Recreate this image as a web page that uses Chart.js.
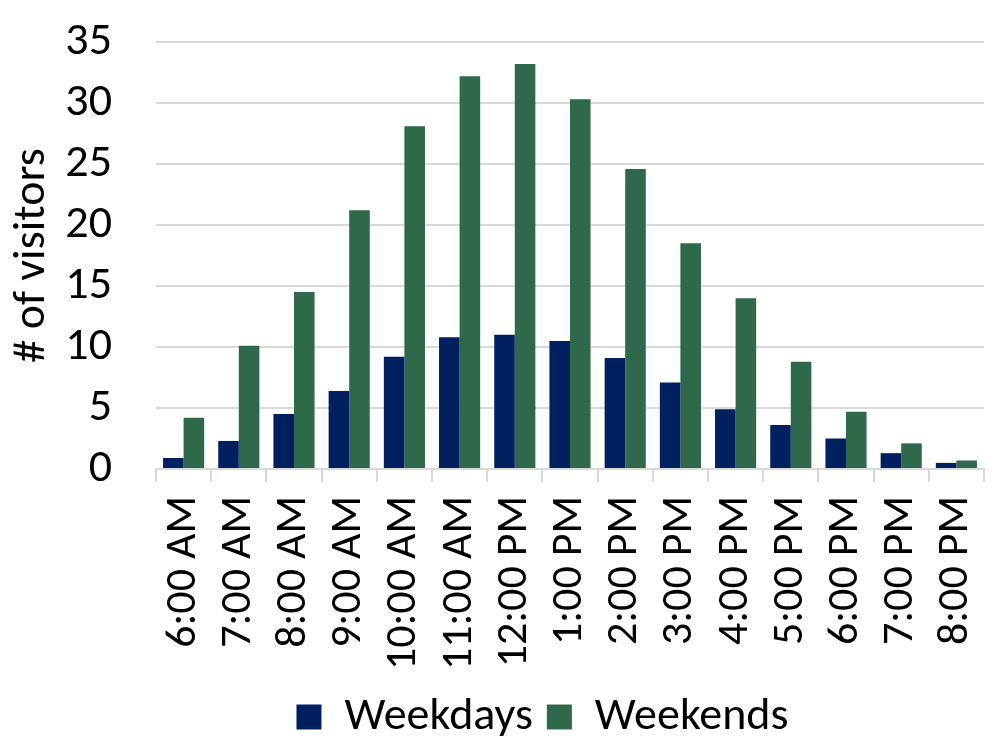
<!DOCTYPE html>
<html>
<head>
<meta charset="utf-8">
<title># of visitors by hour</title>
<script src="https://cdn.jsdelivr.net/npm/chart.js@4"></script>
<style>
  html, body { margin: 0; padding: 0; background: #fff; }
  #chart { display: block; }
</style>
</head>
<body>
<canvas id="chart" width="1000" height="750"></canvas>
<script>
// Dữ liệu
const hours = [
  "6:00 AM", "7:00 AM", "8:00 AM", "9:00 AM", "10:00 AM", "11:00 AM",
  "12:00 PM", "1:00 PM", "2:00 PM", "3:00 PM", "4:00 PM", "5:00 PM",
  "6:00 PM", "7:00 PM", "8:00 PM",
];
const weekdays = [0.9, 2.3, 4.5, 6.4, 9.2, 10.8, 11.0, 10.5, 9.1, 7.1, 4.9, 3.6, 2.5, 1.3, 0.5];
const weekends = [4.2, 10.1, 14.5, 21.2, 28.1, 32.2, 33.2, 30.3, 24.6, 18.5, 14.0, 8.8, 4.7, 2.1, 0.7];
const yMax = 35;
const yStep = 5;

const FONT = "Carlito, Calibri, Lato, sans-serif";
const FONT_SIZE = 46;
const gridColor = "#d9d9d9";

// Dời chú thích sang phải một chút cho giống hình gốc
const legendShift = {
  id: "legendShift",
  afterLayout(chart) {
    if (chart.legend) {
      chart.legend.left += 48;
      chart.legend.right += 48;
    }
  },
};

const ctx = document.getElementById("chart").getContext("2d");

const chart = new Chart(ctx, {
  type: "bar",
  data: {
    labels: hours,
    datasets: [
      {
        label: "Weekdays",
        data: weekdays,
        backgroundColor: "#002060",
        borderWidth: 0,
      },
      {
        label: "Weekends",
        data: weekends,
        backgroundColor: "#2f694b",
        borderWidth: 0,
      },
    ],
  },
  plugins: [legendShift],
  options: {
    responsive: false,
    devicePixelRatio: 1,
    animation: false,
    layout: {
      padding: { left: 5, right: 16, top: 42, bottom: 0 },
    },
    datasets: {
      bar: { categoryPercentage: 0.745, barPercentage: 1.0 },
    },
    scales: {
      x: {
        afterFit: (axis) => {
          axis.height = 211;
          axis.paddingLeft = 0;
          axis.paddingRight = 0;
        },
        grid: {
          display: true,
          offset: true,
          drawOnChartArea: false,
          drawTicks: true,
          tickLength: 13,
          color: gridColor,
          lineWidth: 2,
        },
        border: { display: true, color: gridColor, width: 2 },
        ticks: {
          color: "#000",
          font: { family: FONT, size: 44 },
          minRotation: 90,
          maxRotation: 90,
          padding: 14,
          autoSkip: false,
        },
      },
      y: {
        min: 0,
        max: yMax,
        afterFit: (axis) => {
          axis.width = 151;
          axis.paddingTop = 0;
          axis.paddingBottom = 0;
        },
        grid: {
          color: gridColor,
          lineWidth: 2,
          drawTicks: false,
        },
        border: { display: false },
        ticks: {
          stepSize: yStep,
          autoSkip: false,
          color: "#000",
          font: { family: FONT, size: FONT_SIZE },
          padding: 44,
        },
        title: {
          display: true,
          text: "# of visitors",
          color: "#000",
          font: { family: FONT, size: FONT_SIZE },
          padding: { top: 0, bottom: 0 },
        },
      },
    },
    plugins: {
      legend: {
        position: "bottom",
        labels: {
          color: "#000",
          font: { family: FONT, size: FONT_SIZE },
          boxWidth: 25,
          boxHeight: 25,
          padding: 14,
        },
      },
      tooltip: { enabled: false },
    },
  },
});
</script>
</body>
</html>
